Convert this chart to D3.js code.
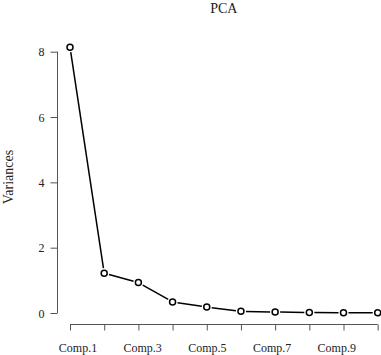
<!DOCTYPE html>
<html><head><meta charset="utf-8">
<script src="https://cdn.jsdelivr.net/npm/d3@7"></script>
<style>body{margin:0;background:#fff}svg{display:block}text{font-family:"Liberation Serif","Times New Roman",serif;fill:#222}</style>
</head><body>
<svg id="c" width="381" height="355"></svg>
<script>
const categories = ["Comp.1","Comp.2","Comp.3","Comp.4","Comp.5","Comp.6","Comp.7","Comp.8","Comp.9","Comp.10"];
const variances = [8.14, 1.22, 0.93, 0.34, 0.18, 0.05, 0.03, 0.015, 0.01, 0.005];
const yTicks = [0, 2, 4, 6, 8];
const xLabelShown = ["Comp.1","Comp.3","Comp.5","Comp.7","Comp.9"];

const svg = d3.select("#c");
const x = d3.scalePoint().domain(categories).range([70, 377.7]);
const xLab = d3.scalePoint().domain(categories).range([78, 369.1]);
const y = d3.scaleLinear().domain([0, 8]).range([313, 51.7]);

// Title
svg.append("text").attr("x", 223.8).attr("y", 13).attr("text-anchor","middle")
  .attr("font-size", 14).text("PCA");
// Y label
svg.append("text").attr("transform","translate(13,177) rotate(-90)")
  .attr("text-anchor","middle").attr("font-size", 14).text("Variances");

// Y axis
const yAxis = d3.axisLeft(y).tickValues(yTicks).tickSize(7).tickPadding(6).tickFormat(d3.format("d"));
const gy = svg.append("g").attr("transform","translate(57.5,0)").call(yAxis);
gy.select(".domain").attr("stroke","#555").attr("d", `M0,${y(0)}V${y(8)}`);
gy.selectAll(".tick line").attr("stroke","#555");
gy.selectAll(".tick text").attr("font-size",12).attr("font-family","Liberation Serif").attr("fill","#222").attr("dy","0.35em");

// X axis (ticks)
const xAxis = d3.axisBottom(x).tickSize(6).tickFormat("");
const gx = svg.append("g").attr("transform","translate(0,324.5)").call(xAxis);
gx.select(".domain").attr("stroke","#555").attr("d", `M${x(categories[0])},0H${x(categories[categories.length-1])}`);
gx.selectAll(".tick line").attr("stroke","#555");
// X labels
svg.append("g").selectAll("text").data(xLabelShown).join("text")
  .attr("x", d => xLab(d)).attr("y", 352).attr("text-anchor","middle")
  .attr("font-size", 12).text(d => d);

// Lines with gaps (type="b")
const pts = categories.map((c,i)=>[x(c), y(variances[i])]);
const gap = 5;
const segs = [];
for (let i=0;i<pts.length-1;i++){
  const [x1,y1]=pts[i],[x2,y2]=pts[i+1];
  const dx=x2-x1, dy=y2-y1, L=Math.hypot(dx,dy);
  if (L>2*gap) segs.push([x1+dx/L*gap, y1+dy/L*gap, x2-dx/L*gap, y2-dy/L*gap]);
}
svg.append("g").selectAll("line").data(segs).join("line")
  .attr("x1",d=>d[0]).attr("y1",d=>d[1]).attr("x2",d=>d[2]).attr("y2",d=>d[3])
  .attr("stroke","#000").attr("stroke-width",1.5);

svg.append("g").selectAll("circle").data(variances).join("circle")
  .attr("cx",(d,i)=>x(categories[i])).attr("cy",d=>y(d)).attr("r",3)
  .attr("fill","none").attr("stroke","#000").attr("stroke-width",1.5);
</script>
</body></html>
